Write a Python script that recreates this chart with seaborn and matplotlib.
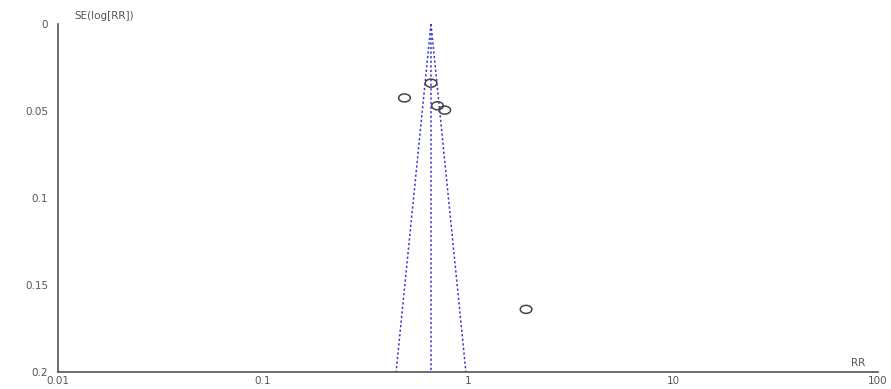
import numpy as np
import pandas as pd
import matplotlib
matplotlib.use("Agg")
import matplotlib.pyplot as plt
from matplotlib.path import Path
from matplotlib.transforms import Affine2D
import seaborn as sns

# Study estimates: risk ratio and standard error of log(RR)
study_rr = [0.66, 0.49, 0.71, 0.77, 1.92]
study_se = [0.034, 0.0425, 0.047, 0.0495, 0.164]

pooled_rr = 0.66
se_max = 0.2

x_ticks = [0.01, 0.1, 1, 10, 100]
x_tick_labels = ["0.01", "0.1", "1", "10", "100"]
y_ticks = [0, 0.05, 0.1, 0.15, 0.2]
y_tick_labels = ["0", "0.05", "0.1", "0.15", "0.2"]

sns.set_theme(style="white")
plt.rcParams["font.family"] = ["DejaVu Sans"]

fig = plt.figure(figsize=(8.91, 3.89), dpi=100)
ax = fig.add_axes([58 / 891, 1 - 372 / 389, (878 - 58) / 891, (372 - 24) / 389])

df = pd.DataFrame({"RR": study_rr, "SE": study_se})

# pseudo 95% confidence limits
se_line = np.array([0.0, se_max])
lower = pooled_rr * np.exp(-1.96 * se_line)
upper = pooled_rr * np.exp(1.96 * se_line)
funnel_style = dict(color="#3b3bd1", linestyle=(0, (1.5, 1.5)), linewidth=1.1)
ax.plot(lower, se_line, **funnel_style)
ax.plot(upper, se_line, **funnel_style)
ax.plot([pooled_rr, pooled_rr], [0, se_max], **funnel_style)

# open elliptical markers
ellipse = Path.unit_circle().transformed(Affine2D().scale(1.45, 1.0))
sns.scatterplot(data=df, x="RR", y="SE", ax=ax, marker=ellipse, s=70,
                facecolor="none", edgecolor="#444444", linewidth=1.1, zorder=3)

ax.set_xscale("log")
ax.set_xlim(0.01, 100)
ax.set_ylim(se_max, 0)
ax.set_xticks(x_ticks)
ax.set_xticklabels(x_tick_labels)
ax.set_yticks(y_ticks)
ax.set_yticklabels(y_tick_labels)
ax.xaxis.set_minor_locator(matplotlib.ticker.NullLocator())

for side in ["top", "right"]:
    ax.spines[side].set_visible(False)
for side in ["left", "bottom"]:
    ax.spines[side].set_color("#555555")
    ax.spines[side].set_linewidth(1.2)

ax.tick_params(axis="both", which="major", length=4, width=1, color="#555555",
               labelsize=7.5, labelcolor="#555555", direction="inout")
ax.tick_params(axis="x", pad=1)
ax.tick_params(axis="y", pad=5)
ax.set_xlabel("")
ax.set_ylabel("")

ax.text(0.012, -0.002, "SE(log[RR])", fontsize=7.5, color="#555555",
        ha="left", va="bottom", transform=ax.transData)
ax.text(0.985, 0.012, "RR", fontsize=7.5, color="#555555",
        ha="right", va="bottom", transform=ax.transAxes)

fig.savefig("out.png", dpi=100, facecolor="white")
